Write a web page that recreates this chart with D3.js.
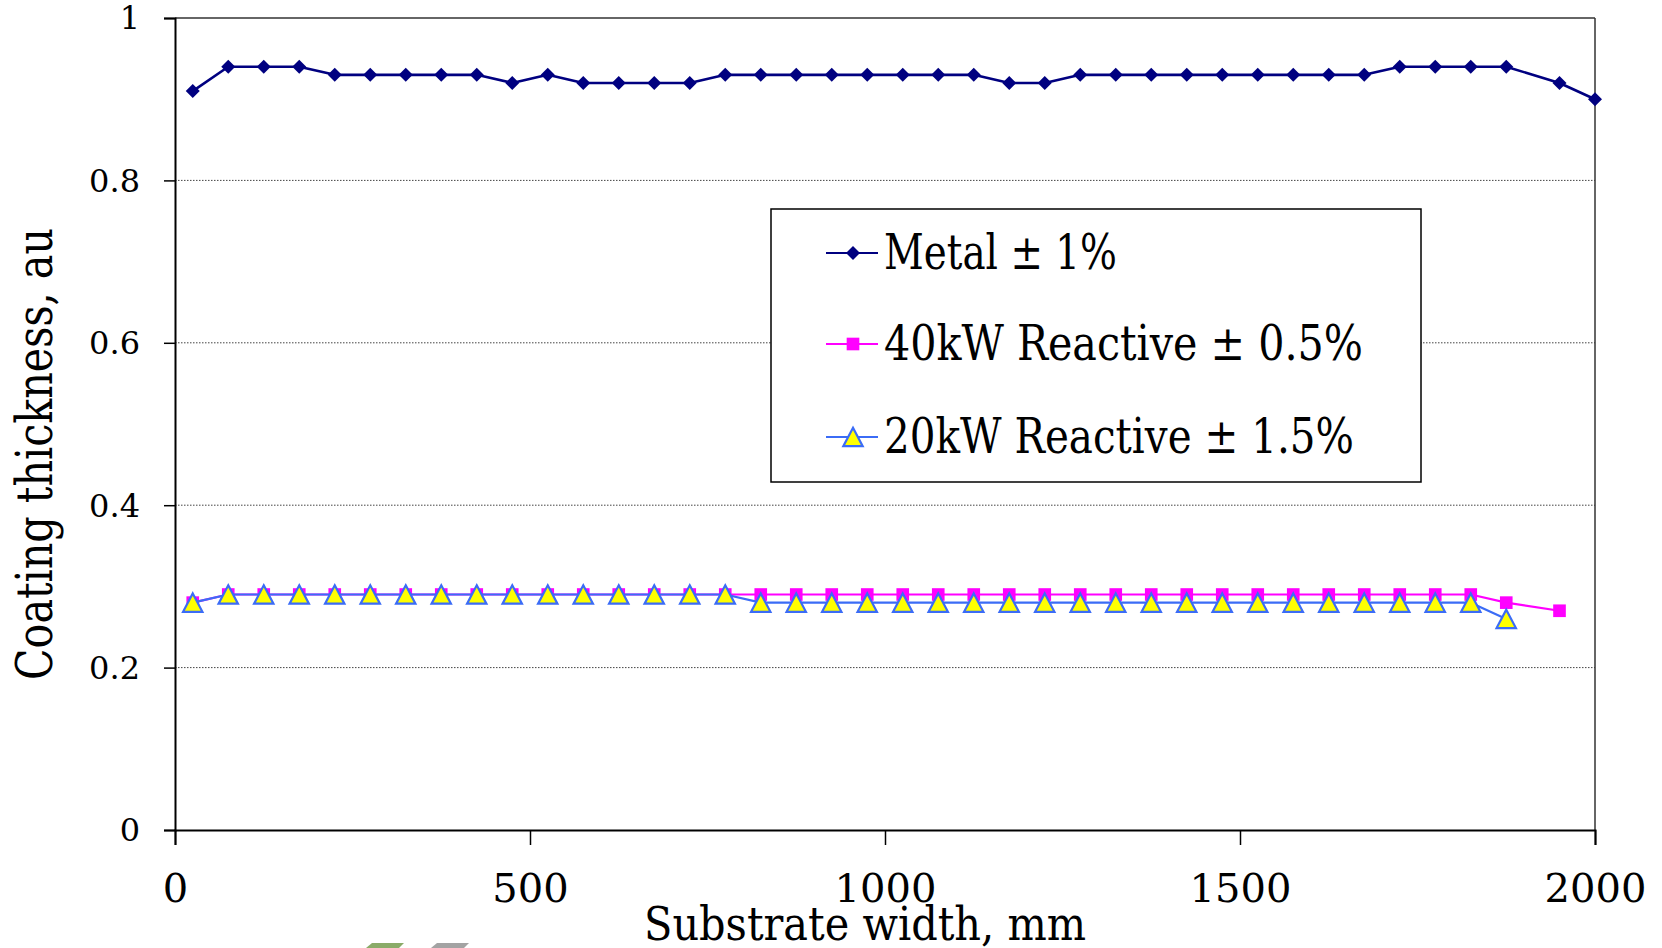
<!DOCTYPE html>
<html>
<head>
<meta charset="utf-8">
<script src="https://cdn.jsdelivr.net/npm/d3@7"></script>
<style>
  html, body { margin: 0; padding: 0; background: #fff; }
  svg { display: block; }
  text { font-family: "DejaVu Serif", "Liberation Serif", serif; fill: #000; }
</style>
</head>
<body>
<svg id="chart" width="1662" height="948"></svg>
<script>
// ---- data ----
const xMetal = [25,75,125,175,225,275,325,375,425,475,525,575,625,675,725,775,825,875,925,975,
                1025,1075,1125,1175,1225,1275,1325,1375,1425,1475,1525,1575,1625,1675,1725,1775,1825,1875,1950,2000];
const metal  = [0.91,0.94,0.94,0.94,0.93,0.93,0.93,0.93,0.93,0.92,0.93,0.92,0.92,0.92,0.92,0.93,0.93,0.93,0.93,0.93,
                0.93,0.93,0.93,0.92,0.92,0.93,0.93,0.93,0.93,0.93,0.93,0.93,0.93,0.93,0.94,0.94,0.94,0.94,0.92,0.90];

const x40kW  = [25,75,125,175,225,275,325,375,425,475,525,575,625,675,725,775,825,875,925,975,
                1025,1075,1125,1175,1225,1275,1325,1375,1425,1475,1525,1575,1625,1675,1725,1775,1825,1875,1950];
const r40kW  = [0.28,0.29,0.29,0.29,0.29,0.29,0.29,0.29,0.29,0.29,0.29,0.29,0.29,0.29,0.29,0.29,0.29,0.29,0.29,0.29,
                0.29,0.29,0.29,0.29,0.29,0.29,0.29,0.29,0.29,0.29,0.29,0.29,0.29,0.29,0.29,0.29,0.29,0.28,0.27];

const x20kW  = [25,75,125,175,225,275,325,375,425,475,525,575,625,675,725,775,825,875,925,975,
                1025,1075,1125,1175,1225,1275,1325,1375,1425,1475,1525,1575,1625,1675,1725,1775,1825,1875];
const r20kW  = [0.28,0.29,0.29,0.29,0.29,0.29,0.29,0.29,0.29,0.29,0.29,0.29,0.29,0.29,0.29,0.29,0.28,0.28,0.28,0.28,
                0.28,0.28,0.28,0.28,0.28,0.28,0.28,0.28,0.28,0.28,0.28,0.28,0.28,0.28,0.28,0.28,0.28,0.26];

const xTicks = [0, 500, 1000, 1500, 2000];
const yTicks = [0, 0.2, 0.4, 0.6, 0.8, 1];
const yTickLabels = ["0", "0.2", "0.4", "0.6", "0.8", "1"];
const seriesNames = ["Metal \u00b1 1%", "40kW Reactive \u00b1 0.5%", "20kW Reactive \u00b1 1.5%"];
const xTitle = "Substrate width, mm";
const yTitle = "Coating thickness, au";

// ---- layout ----
const svg = d3.select("#chart");
const L = 175, R = 1595, T = 18, B = 830;
const x = d3.scaleLinear().domain([0, 2000]).range([L, R]);
const y = d3.scaleLinear().domain([0, 1]).range([B, T]);

// marker shapes
const diamondType = { draw(ctx, size) { const r = Math.sqrt(size / 2);
  ctx.moveTo(0, -r); ctx.lineTo(r, 0); ctx.lineTo(0, r); ctx.lineTo(-r, 0); ctx.closePath(); } };
const triangleType = { draw(ctx, size) { const w = Math.sqrt(size) * 1.05, h = w * 0.95;
  ctx.moveTo(0, -h / 2); ctx.lineTo(w / 2, h / 2); ctx.lineTo(-w / 2, h / 2); ctx.closePath(); } };
const diamond = d3.symbol().type(diamondType).size(98)();
const square = d3.symbol().type(d3.symbolSquare).size(160)();
const triangle = d3.symbol().type(triangleType).size(340)();

const series = [
  { name: seriesNames[0], xs: xMetal, ys: metal, line: "#000080", width: 2.6, marker: diamond, fill: "#000080", stroke: "none", sw: 0 },
  { name: seriesNames[1], xs: x40kW, ys: r40kW, line: "#ff00ff", width: 2.2, marker: square, fill: "#ff00ff", stroke: "none", sw: 0 },
  { name: seriesNames[2], xs: x20kW, ys: r20kW, line: "#3b6cf6", width: 2.2, marker: triangle, fill: "#ffff00", stroke: "#3b6cf6", sw: 2.2 }
];

// gridlines
svg.append("g").selectAll("line").data([0.2, 0.4, 0.6, 0.8]).join("line")
  .attr("x1", L).attr("x2", R).attr("y1", d => y(d)).attr("y2", d => y(d))
  .attr("stroke", "#444").attr("stroke-width", 1).attr("stroke-dasharray", "1.5,1.5");

// frame (top/right)
svg.append("line").attr("x1", L).attr("x2", R).attr("y1", T).attr("y2", T).attr("stroke", "#333").attr("stroke-width", 1.5);
svg.append("line").attr("x1", R).attr("x2", R).attr("y1", T).attr("y2", B).attr("stroke", "#333").attr("stroke-width", 1.5);

// y axis
const yAxis = svg.append("g").attr("transform", `translate(${L},0)`)
  .call(d3.axisLeft(y).tickValues(yTicks).tickSize(11).tickPadding(24)
    .tickFormat((d, i) => yTickLabels[i]));
yAxis.select(".domain").attr("stroke", "#000").attr("stroke-width", 2);
yAxis.selectAll(".tick line").attr("stroke", "#000").attr("stroke-width", 1.5);
yAxis.selectAll(".tick text").attr("font-size", 32).attr("font-family", "DejaVu Serif").attr("dy", "0.34em");

// x axis
const xAxis = svg.append("g").attr("transform", `translate(0,${B})`)
  .call(d3.axisBottom(x).tickValues(xTicks).tickSize(15).tickFormat(d3.format("d")));
xAxis.select(".domain").attr("stroke", "#000").attr("stroke-width", 2);
xAxis.selectAll(".tick line").attr("stroke", "#000").attr("stroke-width", 1.5);
xAxis.selectAll(".tick text").attr("font-size", 40).attr("font-family", "DejaVu Serif")
  .attr("y", 72).attr("dy", 0);

// axis titles
svg.append("text").attr("x", 865).attr("y", 940).attr("text-anchor", "middle")
  .attr("font-size", 46).attr("textLength", 442).attr("lengthAdjust", "spacingAndGlyphs")
  .text(xTitle);
svg.append("text").attr("transform", "translate(52,454) rotate(-90)").attr("text-anchor", "middle")
  .attr("font-size", 50).attr("textLength", 452).attr("lengthAdjust", "spacingAndGlyphs")
  .text(yTitle);

// legend
const lg = svg.append("g");
lg.append("rect").attr("x", 771).attr("y", 209).attr("width", 650).attr("height", 273)
  .attr("fill", "#fff").attr("stroke", "#000").attr("stroke-width", 1.5);
const rowY = [253, 344, 437];
const textLen = [233, 479, 470];
series.forEach((s, i) => {
  const g = lg.append("g");
  g.append("line").attr("x1", 826).attr("x2", 878).attr("y1", rowY[i]).attr("y2", rowY[i])
    .attr("stroke", s.line).attr("stroke-width", 2);
  g.append("path").attr("d", s.marker).attr("transform", `translate(853,${rowY[i]})`)
    .attr("fill", s.fill).attr("stroke", s.stroke).attr("stroke-width", s.sw);
  g.append("text").attr("x", 884).attr("y", rowY[i] + 16).attr("font-size", 49)
    .attr("textLength", textLen[i]).attr("lengthAdjust", "spacingAndGlyphs").text(s.name);
});

// series
const lineGen = d3.line();
series.forEach(s => {
  const pts = s.xs.map((xv, i) => [x(xv), y(s.ys[i])]);
  const g = svg.append("g");
  g.append("path").attr("d", lineGen(pts)).attr("fill", "none")
    .attr("stroke", s.line).attr("stroke-width", s.width).attr("stroke-linejoin", "round");
  g.selectAll("path.m").data(pts).join("path").attr("class", "m")
    .attr("d", s.marker).attr("transform", d => `translate(${d[0]},${d[1]})`)
    .attr("fill", s.fill).attr("stroke", s.stroke).attr("stroke-width", s.sw);
});

// logo fragment at bottom edge
const logo = svg.append("g");
logo.append("path").attr("d", "M372,943 L404,943 L399,948 L366,948 Z").attr("fill", "#8aab68");
logo.append("path").attr("d", "M437,943 L469,943 L464,948 L431,948 Z").attr("fill", "#a3a3a3");
</script>
</body>
</html>
